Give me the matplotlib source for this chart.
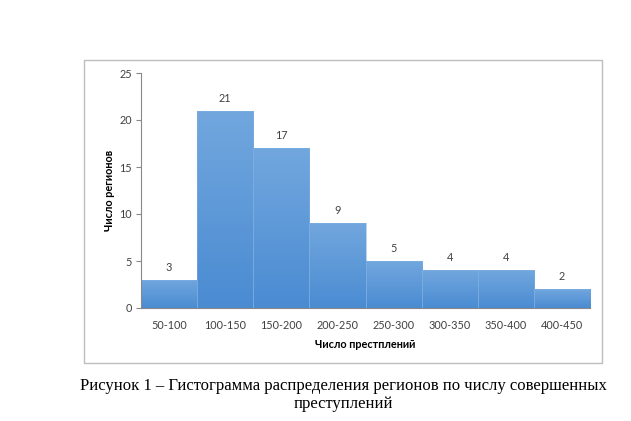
import matplotlib
matplotlib.use("Agg")
import matplotlib.pyplot as plt
import numpy as np
from matplotlib.patches import Rectangle
from matplotlib.colors import LinearSegmentedColormap

categories = ["50-100", "100-150", "150-200", "200-250", "250-300", "300-350", "350-400", "400-450"]
values = [3, 21, 17, 9, 5, 4, 4, 2]
yticks = [0, 5, 10, 15, 20, 25]
xlabel = "Число престплений"
ylabel = "Число регионов"
caption = "Рисунок 1 – Гистограмма распределения регионов по числу совершенных\nпреступлений"

W, H = 631, 421
fig = plt.figure(figsize=(W / 100, H / 100), dpi=100)
fig.patch.set_facecolor("white")

# chart frame
fig.add_artist(Rectangle((84 / W, 1 - 363 / H), (602 - 84) / W, (363 - 60) / H,
                         transform=fig.transFigure, fill=False, edgecolor="#BDBDBD", lw=1.0))

ax = fig.add_axes([141 / W, 1 - 308 / H, (590 - 141) / W, (308 - 73) / H])
x = np.arange(len(categories))
bars = ax.bar(x, values, width=1.0, color="none", edgecolor="none", zorder=2)

cmap = LinearSegmentedColormap.from_list("g", ["#4A8BD2", "#72A7DE"])
grad = np.linspace(0, 1, 256).reshape(-1, 1)
for b in bars:
    x0, y0 = b.get_x(), b.get_y()
    w, h = b.get_width(), b.get_height()
    im = ax.imshow(grad, extent=[x0, x0 + w, y0, y0 + h], origin="lower",
                   cmap=cmap, aspect="auto", zorder=1, interpolation="bilinear")
    im.set_clip_path(b)
    ax.add_patch(Rectangle((x0, y0), w, h, fill=False, edgecolor="#7FB0E2", lw=0.4, zorder=2))

fs = 7.8
for xi, v in zip(x, values):
    ax.annotate(str(v), (xi, v), xytext=(0, 5), textcoords="offset points",
                ha="center", va="bottom", fontsize=fs, color="#404040", family="Lato")

ax.set_xlim(-0.5, len(categories) - 0.5)
ax.set_ylim(0, 25)
ax.set_yticks(yticks)
ax.set_xticks(x)
ax.set_xticklabels(categories)
for s in ["top", "right"]:
    ax.spines[s].set_visible(False)
for s in ["left", "bottom"]:
    ax.spines[s].set_color("#888888")
    ax.spines[s].set_linewidth(0.8)
ax.tick_params(axis="y", length=3.5, color="#888888", labelsize=fs, labelcolor="#404040", pad=3)
ax.tick_params(axis="x", length=0, labelsize=fs, labelcolor="#404040", pad=8.5)
for lab in ax.get_xticklabels() + ax.get_yticklabels():
    lab.set_family("Lato")

ax.set_xlabel(xlabel, fontsize=fs, fontweight="bold", family="Lato", color="#000000", labelpad=6)
ax.set_ylabel(ylabel, fontsize=fs, fontweight="bold", family="Lato", color="#000000", labelpad=3)

fig.text((343) / W, 1 - 395 / H, caption,
         ha="center", va="center", fontsize=12, family="Liberation Serif", linespacing=1.2)

fig.savefig("out.png", dpi=100)
